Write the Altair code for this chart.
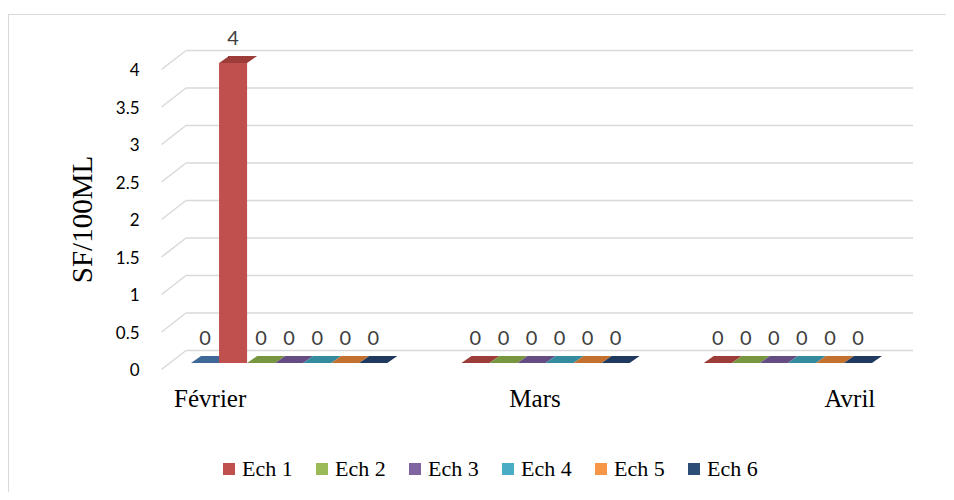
import altair as alt
import pandas as pd

# ---- data ----
months = ["Février", "Mars", "Avril"]
series = ["Série 0", "Ech 1", "Ech 2", "Ech 3", "Ech 4", "Ech 5", "Ech 6"]
legend_series = ["Ech 1", "Ech 2", "Ech 3", "Ech 4", "Ech 5", "Ech 6"]

serie0 = [0, None, None]
ech1 = [4, 0, 0]
ech2 = [0, 0, 0]
ech3 = [0, 0, 0]
ech4 = [0, 0, 0]
ech5 = [0, 0, 0]
ech6 = [0, 0, 0]

y_ticks = [0, 0.5, 1, 1.5, 2, 2.5, 3, 3.5, 4]

front_colors = ["#4F81BD", "#C0504D", "#9BBB59", "#8064A2", "#4BACC6", "#F79646", "#2C4D75"]
top_colors = ["#3F6898", "#9C3D3A", "#789640", "#654C82", "#348A9F", "#C4712F", "#1F3A5E"]
side_colors = ["#335579", "#7E302E", "#617A34", "#51406A", "#2A7082", "#9E5B25", "#182E4A"]

rows = []
for i, (name, vals) in enumerate(zip(series, [serie0, ech1, ech2, ech3, ech4, ech5, ech6])):
    for m, v in zip(months, vals):
        if v is None:
            continue
        rows.append({"mois": m, "serie": name, "val": v,
                     "top": top_colors[i], "side": side_colors[i]})
df = pd.DataFrame(rows)
ticks_df = pd.DataFrame({"v": y_ticks})

# ---- scales / axes ----
xscale = alt.Scale(domain=months, range=[52, 733], paddingInner=0.19, paddingOuter=0)
xoff_scale = alt.Scale(domain=series, paddingInner=0, paddingOuter=0)
yscale = alt.Scale(domain=[0, 4], range=[355, 55], nice=False, zero=True)

x_axis = alt.Axis(
    title=None, ticks=False, tickSize=0, domain=False, grid=False,
    labelFont="Liberation Serif", labelFontSize=25, labelColor="black",
    labelBaseline="alphabetic", labelPadding=0, labelAngle=0,
    labelOffset={"condition": [
        {"test": "datum.value === 'Février'", "value": -79},
        {"test": "datum.value === 'Avril'", "value": 76}],
        "value": 3.5},
)
y_axis = alt.Axis(
    values=y_ticks, format="~g", ticks=False, tickSize=0, domain=False, grid=False,
    labelFont="Lato", labelFontSize=17, labelColor="black", labelPadding=0,
    labelOffset=7.5,
    title="SF/100ML", titleFont="Liberation Serif", titleFontSize=29,
    titleFontWeight="normal", titleColor="black", titleAngle=270,
    titleX=-57, titleY=211, titleAlign="center", titleBaseline="middle",
)

X = alt.X("mois:N", scale=xscale, sort=months, axis=x_axis)
XO = alt.XOffset("serie:N", scale=xoff_scale, sort=series)
Y = alt.Y("val:Q", scale=yscale, axis=y_axis)

base = alt.Chart(df)
top_path = "M -1 0 L 1 0 L 1.714 -0.5 L -0.286 -0.5 Z"

# ---- frame ----
frame_df = pd.DataFrame({"k": [0]})
frame_top = alt.Chart(frame_df).mark_rule(color="#d9d9d9", strokeWidth=1).encode(
    x=alt.value(-131), x2=alt.value(830), y=alt.value(6.5))
frame_left = alt.Chart(frame_df).mark_rule(color="#d9d9d9", strokeWidth=1).encode(
    x=alt.value(-130.5), y=alt.value(6), y2=alt.value(520))

# ---- back-wall grid ----
grid = alt.Chart(ticks_df).mark_rule(color="#d9d9d9", strokeWidth=1.5, yOffset=-12.5).encode(
    y=alt.Y("v:Q", scale=yscale, axis=y_axis), x=alt.value(47), x2=alt.value(774))
diag = alt.Chart(ticks_df).mark_rule(color="#d9d9d9", strokeWidth=1.5,
                                     yOffset=6.5, y2Offset=-12.5).encode(
    y=alt.Y("v:Q", scale=yscale, axis=y_axis), y2=alt.Y2("v"),
    x=alt.value(22.5), x2=alt.value(47))

# ---- 3D bars ----
side = base.transform_filter("datum.val > 0").mark_bar(
    width=10, xOffset=19, yOffset=-7, strokeWidth=0).encode(
    x=X, xOffset=XO, y=Y, y2=alt.datum(0), fill=alt.Fill("side:N", scale=None))

zero_top = base.transform_filter("datum.val == 0").mark_point(
    shape=top_path, size=784, filled=True, opacity=1, strokeWidth=0).encode(
    x=X, xOffset=XO, y=Y, fill=alt.Fill("top:N", scale=None))

front = base.mark_bar(strokeWidth=0).encode(
    x=X, xOffset=XO, y=Y,
    color=alt.Color("serie:N", scale=alt.Scale(domain=series, range=front_colors),
                    legend=alt.Legend(
                        orient="none", legendX=79, legendY=450, direction="horizontal",
                        columns=6, title=None, values=legend_series,
                        symbolType="square", symbolSize=144, symbolStrokeWidth=0,
                        symbolOpacity=1,
                        labelFont="Liberation Serif", labelFontSize=22,
                        labelColor="black", labelOffset=2, columnPadding=18)))

nz_top = base.transform_filter("datum.val > 0").mark_point(
    shape=top_path, size=784, filled=True, opacity=1, strokeWidth=0).encode(
    x=X, xOffset=XO, y=Y, fill=alt.Fill("top:N", scale=None))

labels = base.mark_text(dy=-24, font="Lato", fontSize=20, color="#404040",
                        baseline="middle").encode(
    x=X, xOffset=XO, y=Y, text=alt.Text("val:Q"))

chart = alt.layer(
    frame_top, frame_left, grid, diag, side, zero_top, front, nz_top, labels
).properties(
    width=807, height=398,
    padding={"left": 131, "top": 0, "right": 0, "bottom": 86},
    autosize="none",
).configure(background="white").configure_view(stroke=None)

chart.save("out.html", embed_options={"renderer": "svg", "actions": False})
